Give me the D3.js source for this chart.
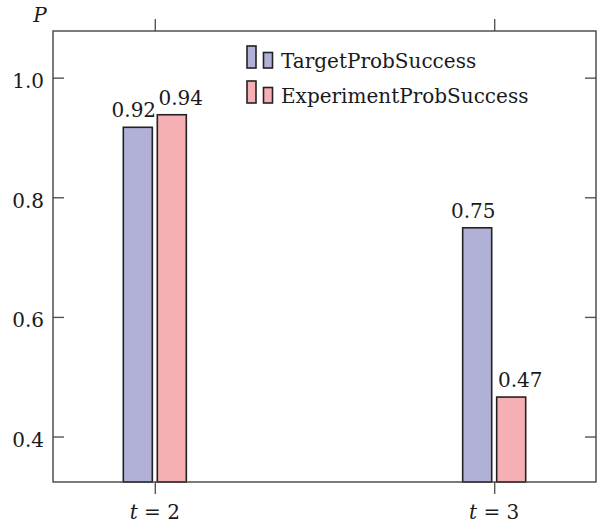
<!DOCTYPE html>
<html>
<head>
<meta charset="utf-8">
<script src="https://cdn.jsdelivr.net/npm/d3@7"></script>
<style>
  html, body { margin: 0; padding: 0; background: #fff; }
  svg text { font-family: "DejaVu Serif", serif; fill: #1a1a1a; }
</style>
</head>
<body>
<svg id="chart" width="601" height="524"></svg>
<script>
// ---- data ----
const categories = [2, 3];
const seriesNames = ["TargetProbSuccess", "ExperimentProbSuccess"];
const targetValues = [0.917, 0.749];
const experimentValues = [0.938, 0.466];
const yTickValues = [0.4, 0.6, 0.8, 1.0];
const seriesColors = ["#b1b1d8", "#f6b0b3"];

const seriesValues = [targetValues, experimentValues];
const labelShift = [-4, 9];
const FS = 20;

const W = 601, H = 524;
const margin = { top: 31, right: 5, bottom: 42, left: 53 };
const iw = W - margin.left - margin.right;
const ih = H - margin.top - margin.bottom;

const svg = d3.select("#chart");
const g = svg.append("g").attr("transform", `translate(${margin.left},${margin.top})`);

const x = d3.scaleLinear().domain([1.7, 3.3]).range([0, iw]);
const y = d3.scaleLinear().domain([0.324, 1.078]).range([ih, 0]);
const inner = d3.scaleBand().domain(seriesNames).range([-31.5, 31.5]).paddingInner(0.147).paddingOuter(0);

// bars
const barData = [];
seriesNames.forEach((s, si) => {
  categories.forEach((c, ci) => {
    barData.push({ series: s, si, cat: c, value: seriesValues[si][ci] });
  });
});

g.selectAll("rect.bar")
  .data(barData)
  .join("rect")
  .attr("class", "bar")
  .attr("x", d => x(d.cat) + inner(d.series))
  .attr("width", inner.bandwidth())
  .attr("y", d => y(d.value))
  .attr("height", d => ih - y(d.value))
  .attr("fill", d => seriesColors[d.si])
  .attr("stroke", "#222")
  .attr("stroke-width", 1.6);

g.selectAll("text.vlabel")
  .data(barData)
  .join("text")
  .attr("class", "vlabel")
  .attr("x", d => x(d.cat) + inner(d.series) + inner.bandwidth() / 2 + labelShift[d.si])
  .attr("y", d => y(d.value) - 10)
  .attr("text-anchor", "middle")
  .attr("font-size", FS)
  .text(d => d3.format(".2f")(d.value));

// axes
const axisColor = "#444";
function styleAxis(sel) {
  sel.select(".domain").remove();
  sel.selectAll(".tick line").attr("stroke", "#555").attr("stroke-width", 1.4);
  sel.selectAll(".tick text").attr("font-size", FS).attr("font-family", "DejaVu Serif, serif").attr("fill", "#1a1a1a");
}

const yLeft = g.append("g")
  .call(d3.axisLeft(y).tickValues(yTickValues).tickSizeInner(-11).tickSizeOuter(0).tickPadding(9).tickFormat(d3.format(".1f")));
styleAxis(yLeft);
yLeft.selectAll(".tick text").attr("dy", "0.5em");

const yRight = g.append("g").attr("transform", `translate(${iw},0)`)
  .call(d3.axisRight(y).tickValues(yTickValues).tickSizeInner(-11).tickSizeOuter(0).tickFormat(""));
styleAxis(yRight);

const xBottom = g.append("g").attr("transform", `translate(0,${ih})`)
  .call(d3.axisBottom(x).tickValues(categories).tickSizeInner(12).tickSizeOuter(0).tickFormat(""));
styleAxis(xBottom);

const xTop = g.append("g")
  .call(d3.axisTop(x).tickValues(categories).tickSizeInner(12).tickSizeOuter(0).tickFormat(""));
styleAxis(xTop);

// x labels "t = 2"
const xl = g.selectAll("text.xlabel")
  .data(categories)
  .join("text")
  .attr("class", "xlabel")
  .attr("x", d => x(d))
  .attr("y", ih + 37)
  .attr("text-anchor", "middle")
  .attr("font-size", FS);
xl.append("tspan").attr("font-style", "italic").text("t");
xl.append("tspan").text(d => " = " + d);

// frame
g.append("rect")
  .attr("x", 0).attr("y", 0).attr("width", iw).attr("height", ih)
  .attr("fill", "none").attr("stroke", axisColor).attr("stroke-width", 1.4);

// y axis label
svg.append("text")
  .attr("x", 40).attr("y", 22)
  .attr("text-anchor", "middle")
  .attr("font-size", FS)
  .attr("font-style", "italic")
  .text("P");

// legend
const legend = svg.append("g").attr("transform", "translate(247,46)");
const rows = legend.selectAll("g.row")
  .data(seriesNames)
  .join("g")
  .attr("class", "row")
  .attr("transform", (d, i) => `translate(0,${i * 35})`);
rows.append("rect").attr("x", 0).attr("y", 0).attr("width", 9).attr("height", 22)
  .attr("fill", (d, i) => seriesColors[i]).attr("stroke", "#222").attr("stroke-width", 1.6);
rows.append("rect").attr("x", 16.5).attr("y", 6.5).attr("width", 9).attr("height", 15.5)
  .attr("fill", (d, i) => seriesColors[i]).attr("stroke", "#222").attr("stroke-width", 1.6);
rows.append("text").attr("x", 34).attr("y", 21.5).attr("font-size", FS).text(d => d);
</script>
</body>
</html>
